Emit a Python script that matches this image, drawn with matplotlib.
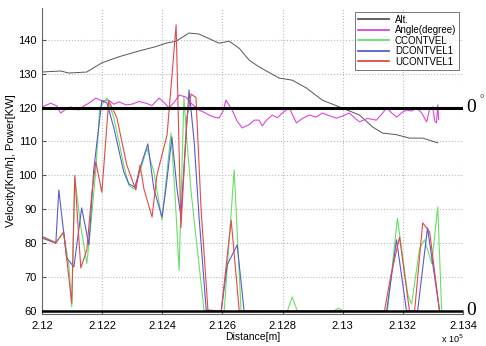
import matplotlib
matplotlib.use("Agg")
import matplotlib.pyplot as plt
from matplotlib.ticker import FuncFormatter
import matplotlib.transforms as mtransforms

plt.rcParams['font.family'] = ['Liberation Sans', 'DejaVu Sans']

# ---------------- data ----------------
alt_x = [212000, 212062, 212089, 212149, 212199, 212256, 212322, 212379, 212412,
         212446, 212489, 212522, 212589, 212622, 212656, 212689, 212722, 212789,
         212832, 212879, 212932, 212989, 213056, 213099, 213132, 213179, 213222,
         213266, 213316]
alt_y = [130.5, 130.8, 130.2, 130.5, 133.2, 135.0, 136.7, 138.0, 139.0,
         139.6, 142.0, 141.7, 139.0, 139.6, 137.5, 134.0, 132.0, 128.7,
         128.1, 125.8, 122.2, 120.2, 117.8, 114.3, 112.5, 112.0, 111.0,
         111.0, 109.6]

angle_x = [212000, 212029, 212049, 212062, 212079, 212096, 212122, 212139, 212156,
           212179, 212199, 212222, 212239, 212256, 212279, 212299, 212322, 212346,
           212366, 212389, 212406, 212422, 212439, 212456, 212479, 212499, 212522,
           212539, 212556, 212572, 212589, 212602, 212612, 212632, 212649, 212666,
           212689, 212706, 212722, 212732, 212749, 212766, 212782, 212799, 212822,
           212846, 212866, 212889, 212912, 212932, 212956, 212979, 212999, 213022,
           213039, 213056, 213082, 213112, 213129, 213146, 213162, 213179, 213196,
           213212, 213229, 213246, 213262, 213279, 213289, 213299, 213306, 213312,
           213316, 213319]
angle_deg = [0.2, 1.3, 0.5, -1.6, -0.5, 0.2, -0.7, 0.5, 1.3,
             2.8, 2.0, 2.2, 1.0, 1.7, 0.8, 1.0, 1.8, 1.3,
             0.6, 2.8, 1.5, -0.1, 1.5, 3.7, 3.1, 1.0, -0.7,
             -1.4, -2.2, -2.8, -3.1, -1.0, 2.2, -0.7, -4.0, -6.0,
             -5.0, -3.7, -3.7, -5.4, -3.5, -2.2, -3.0, -1.6, -0.1,
             -4.5, -3.2, -2.2, -2.8, -1.6, -2.4, -3.1, -2.5, -1.6,
             -3.0, -4.2, -3.2, -3.7, -2.0, -0.1, -1.5, -2.8, -1.5,
             -0.7, -1.0, -0.1, -1.5, -4.2, -0.5, 0.2, -4.0, -4.5,
             0.8, -3.5]

c_x = [212000, 212046, 212072, 212089, 212099, 212109, 212129, 212149, 212162,
       212179, 212192, 212216, 212239, 212272, 212289, 212306, 212322, 212349,
       212372, 212399, 212429, 212442, 212456, 212472, 212482, 212496, 212539,
       212606, 212639, 212662, 212816, 212832, 212849, 212969, 212986, 213002,
       213149, 213182, 213216, 213229, 213256, 213272, 213296, 213316, 213329]
c_y = [82.0, 80.3, 83.0, 73.6, 61.2, 99.5, 85.0, 74.0, 85.0,
       101.6, 120.0, 122.8, 117.0, 103.0, 97.0, 96.0, 100.0, 108.0,
       101.0, 86.8, 112.5, 95.0, 72.0, 123.0, 110.0, 95.0, 60.0,
       60.0, 101.6, 60.0, 60.0, 64.1, 60.0, 60.0, 60.8, 60.0,
       60.0, 87.4, 65.0, 62.0, 78.6, 81.0, 74.0, 90.7, 60.0]

d_x = [212000, 212046, 212056, 212072, 212082, 212106, 212132, 212156, 212172,
       212199, 212216, 212239, 212272, 212289, 212309, 212329, 212352, 212372,
       212399, 212412, 212432, 212449, 212462, 212476, 212489, 212506, 212522,
       212546, 212596, 212616, 212649, 212672, 213146, 213179, 213212, 213249,
       213282, 213322]
d_y = [81.5, 80.0, 95.7, 83.3, 75.6, 73.0, 90.4, 79.5, 101.6,
       122.0, 121.4, 114.0, 101.0, 97.5, 96.5, 103.0, 109.3, 96.0,
       87.7, 96.0, 111.3, 96.0, 87.7, 108.0, 125.2, 110.0, 88.0,
       60.3, 60.0, 73.6, 79.5, 60.0, 60.0, 81.0, 60.0, 60.0,
       84.5, 60.0]

u_x = [212000, 212046, 212072, 212099, 212109, 212129, 212149, 212166, 212179,
       212199, 212222, 212249, 212282, 212312, 212326, 212339, 212366, 212382,
       212399, 212416, 212446, 212462, 212482, 212496, 212512, 212529, 212552,
       212596, 212629, 212656, 213139, 213159, 213189, 213222, 213239, 213266,
       213289, 213322]
u_y = [82.0, 80.0, 83.4, 62.3, 100.0, 72.7, 78.0, 95.0, 104.0,
       95.0, 122.0, 117.0, 103.0, 95.7, 103.0, 96.0, 87.7, 100.0,
       106.0, 112.0, 144.4, 84.5, 117.0, 124.0, 123.0, 90.0, 60.0,
       60.0, 86.8, 60.0, 60.0, 70.0, 81.8, 60.0, 60.0, 86.0,
       83.3, 60.0]

x_ticks = [212000, 212200, 212400, 212600, 212800, 213000, 213200, 213400]
y_ticks = [60, 70, 80, 90, 100, 110, 120, 130, 140]
angle_zero = 120
labels = ['Alt.', 'Angle(degree)', 'CCONTVEL', 'DCONTVEL1', 'UCONTVEL1']
colors = ['#555555', '#dd44dd', '#66e066', '#5a5ad0', '#e04a4a']

# ---------------- plot ----------------
fig = plt.figure(figsize=(4.86, 3.46), dpi=100)
ax = fig.add_axes([0.0864, 0.0925, 0.8663, 0.8845])

ax.plot(alt_x, alt_y, color=colors[0], lw=0.7, label=labels[0])
ax.plot(angle_x, [angle_zero + a for a in angle_deg], color=colors[1], lw=0.8, label=labels[1])
ax.plot(c_x, c_y, color=colors[2], lw=0.8, label=labels[2])
ax.plot(d_x, d_y, color=colors[3], lw=0.8, label=labels[3])
ax.plot(u_x, u_y, color=colors[4], lw=0.8, label=labels[4])

ax.axhline(60, color='black', lw=1.8, zorder=5)
ax.axhline(angle_zero, color='black', lw=2.2, zorder=5)

ax.set_xlim(212000, 213400)
ax.set_ylim(59.1, 149.4)
ax.set_xticks(x_ticks)
ax.set_yticks(y_ticks)
ax.xaxis.set_major_formatter(FuncFormatter(lambda v, p: ('%g' % round(v / 1e5, 4))))
ax.grid(True, color='#bbbbbb', linestyle=':', linewidth=0.8)
ax.tick_params(direction='in', length=3, labelsize=8, color='#555555')
ax.tick_params(axis='x', pad=5)
ax.tick_params(axis='y', pad=4)
for s in ['top', 'right']:
    ax.spines[s].set_visible(False)
for s in ['left', 'bottom']:
    ax.spines[s].set_color('#666666')

ax.set_xlabel('Distance[m]', fontsize=7.5, labelpad=1)
ax.set_ylabel('Velocity[Km/h], Power[KW]', fontsize=8, labelpad=1)

trans = mtransforms.blended_transform_factory(ax.transAxes, ax.transData)
ax.text(1.008, 120, '0', transform=trans, family='Liberation Serif', fontsize=14,
        va='center', ha='left', clip_on=False)
ax.text(1.038, 122.3, '°', transform=trans, family='Liberation Serif', fontsize=8,
        va='center', ha='left', clip_on=False)
ax.text(1.008, 60, '0', transform=trans, family='Liberation Serif', fontsize=14,
        va='center', ha='left', clip_on=False)
fig.text(0.907, 0.002, r'x 10$^5$', fontsize=6.5, ha='left', va='bottom')

leg = ax.legend(loc='upper right', fontsize=7, frameon=True, fancybox=False,
                edgecolor='#555555', handlelength=3.2, borderpad=0.3,
                labelspacing=0.05, handletextpad=0.6, borderaxespad=0.4)
leg.get_frame().set_linewidth(0.7)
for ln in leg.get_lines():
    ln.set_linewidth(1.3)

fig.savefig('out.png', dpi=100)
